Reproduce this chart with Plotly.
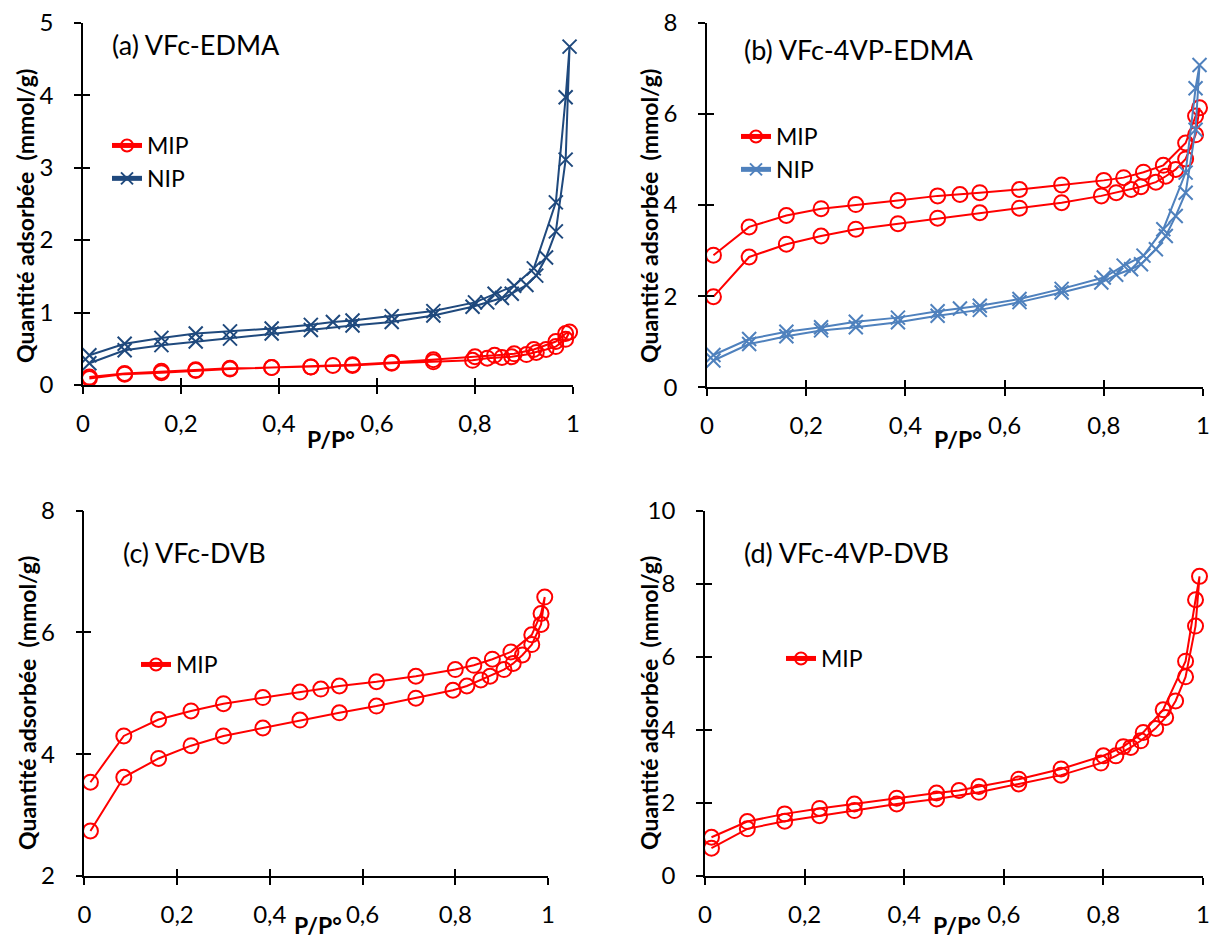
import plotly.graph_objects as go

# Relative pressures (adsorption then desorption branch)
p_ads = [0.013, 0.085, 0.16, 0.23, 0.30, 0.385, 0.465, 0.55, 0.63, 0.715, 0.795,
         0.825, 0.855, 0.875, 0.905, 0.925, 0.945, 0.965, 0.985, 0.993]
p_des = [0.985, 0.965, 0.92, 0.88, 0.84, 0.80, 0.715, 0.63, 0.55, 0.51, 0.465,
         0.385, 0.30, 0.23, 0.16, 0.085, 0.013]

# (a) VFc-EDMA
a_mip_ads = [0.09, 0.15, 0.17, 0.20, 0.22, 0.24, 0.25, 0.27, 0.30, 0.32, 0.34,
             0.37, 0.38, 0.39, 0.42, 0.45, 0.49, 0.53, 0.63, 0.73]
a_mip_des = [0.71, 0.60, 0.49, 0.43, 0.41, 0.39, 0.35, 0.31, 0.28, 0.27, 0.25,
             0.24, 0.23, 0.21, 0.19, 0.16, 0.11]
a_nip_ads = [0.30, 0.48, 0.55, 0.60, 0.64, 0.71, 0.76, 0.82, 0.87, 0.96, 1.08,
             1.14, 1.20, 1.26, 1.38, 1.51, 1.76, 2.12, 3.11, 4.67]
a_nip_des = [3.97, 2.52, 1.61, 1.37, 1.26, 1.14, 1.02, 0.95, 0.89, 0.87, 0.83,
             0.78, 0.74, 0.71, 0.65, 0.57, 0.41]

# (b) VFc-4VP-EDMA
b_mip_ads = [1.99, 2.86, 3.14, 3.32, 3.47, 3.59, 3.71, 3.83, 3.93, 4.05, 4.20,
             4.27, 4.34, 4.40, 4.50, 4.63, 4.78, 5.01, 5.54, 6.13]
b_mip_des = [5.95, 5.36, 4.87, 4.72, 4.60, 4.54, 4.44, 4.34, 4.27, 4.23, 4.20,
             4.10, 4.01, 3.92, 3.77, 3.52, 2.90]
b_nip_ads = [0.59, 0.95, 1.12, 1.25, 1.32, 1.43, 1.57, 1.70, 1.87, 2.08, 2.30,
             2.47, 2.59, 2.70, 3.03, 3.32, 3.76, 4.27, 5.65, 7.07]
b_nip_des = [6.56, 4.71, 3.47, 2.89, 2.67, 2.41, 2.16, 1.94, 1.79, 1.73, 1.67,
             1.53, 1.44, 1.32, 1.22, 1.06, 0.71]

# (c) VFc-DVB
c_mip_ads = [2.74, 3.62, 3.93, 4.14, 4.30, 4.43, 4.56, 4.68, 4.79, 4.92, 5.05,
             5.12, 5.22, 5.28, 5.39, 5.49, 5.63, 5.80, 6.13, 6.58]
c_mip_des = [6.31, 5.96, 5.68, 5.56, 5.46, 5.39, 5.28, 5.19, 5.12, 5.07, 5.02,
             4.93, 4.83, 4.71, 4.57, 4.30, 3.54]

# (d) VFc-4VP-DVB
d_mip_ads = [0.76, 1.29, 1.50, 1.65, 1.79, 1.97, 2.11, 2.29, 2.52, 2.76, 3.09,
             3.29, 3.52, 3.70, 4.04, 4.34, 4.79, 5.45, 6.84, 8.20]
d_mip_des = [7.56, 5.88, 4.55, 3.93, 3.54, 3.29, 2.93, 2.65, 2.45, 2.34, 2.27,
             2.13, 1.97, 1.85, 1.70, 1.49, 1.06]

panel_titles = ["(a) VFc-EDMA", "(b) VFc-4VP-EDMA", "(c) VFc-DVB", "(d) VFc-4VP-DVB"]
y_ranges = [(0, 5, 1), (0, 8, 2), (2, 8, 2), (0, 10, 2)]
x_ticks = [0, 0.2, 0.4, 0.6, 0.8, 1]

W, H = 1213, 939
FONT = "Lato"
RED = "#FF0000"
NAVY = "#1F497D"
LBLUE = "#4F81BD"


def fx(px):
    return px / W


def fy(py):
    return 1 - py / H


# plot-area pixel boxes in page pixels: (left, right, top, bottom)
boxes = [(83, 573, 22.7, 385), (707, 1203, 22.6, 387.4),
         (84.4, 548, 510.6, 876), (705, 1203, 510.6, 876)]

fig = go.Figure()


def add_series(i, name, ads, des, color, symbol, legend, size):
    ax = "" if i == 0 else str(i + 1)
    fig.add_trace(go.Scatter(
        x=p_ads + p_des, y=ads + des, mode="lines+markers", name=name,
        xaxis="x" + ax, yaxis="y" + ax, legend=legend, cliponaxis=False,
        line=dict(color=color, width=2),
        marker=dict(symbol=symbol, size=size, color=color,
                    line=dict(color=color, width=2)),
    ))


add_series(0, "MIP", a_mip_ads, a_mip_des, RED, "circle-open", "legend", 15)
add_series(0, "NIP", a_nip_ads, a_nip_des, NAVY, "x-thin", "legend", 14)
add_series(1, "MIP", b_mip_ads, b_mip_des, RED, "circle-open", "legend2", 15)
add_series(1, "NIP", b_nip_ads, b_nip_des, LBLUE, "x-thin", "legend2", 14)
add_series(2, "MIP", c_mip_ads, c_mip_des, RED, "circle-open", "legend3", 15)
add_series(3, "MIP", d_mip_ads, d_mip_des, RED, "circle-open", "legend4", 15)

layout = dict(width=W, height=H, margin=dict(l=0, r=0, t=0, b=0),
              paper_bgcolor="white", plot_bgcolor="white", separators=", ",
              font=dict(family=FONT, size=22, color="black"), showlegend=True)

tickfont = dict(family=FONT, size=24, color="black")
annotations = []
for i, (l, r, t, b) in enumerate(boxes):
    ax = "" if i == 0 else str(i + 1)
    dx = [fx(l), fx(r)]
    dy = [fy(b), fy(t)]
    y0, y1, dtk = y_ranges[i]
    layout["xaxis" + ax] = dict(domain=dx, range=[0, 1], anchor="y" + ax,
                               tickvals=x_ticks, ticks="outside", ticklen=7,
                               tickwidth=1.5, tickcolor="black", showline=True,
                               linecolor="black", linewidth=1.5, showgrid=False,
                               zeroline=False, tickfont=tickfont,
                               ticklabelstandoff=9, automargin=False,
                               ticklabeloverflow="allow")
    layout["yaxis" + ax] = dict(domain=dy, range=[y0, y1], anchor="x" + ax,
                               dtick=dtk, tick0=y0, ticks="outside", ticklen=7,
                               tickwidth=1.5, tickcolor="black", showline=True,
                               linecolor="black", linewidth=1.5, showgrid=False,
                               zeroline=False, tickfont=tickfont,
                               ticklabelstandoff=16, automargin=False,
                               ticklabeloverflow="allow")
    # overlay axes for the inner half of crossing ticks
    k = str(i + 5)
    layout["xaxis" + k] = dict(overlaying="x" + ax, anchor="y" + ax, range=[0, 1],
                              tickvals=x_ticks, ticks="inside", ticklen=7,
                              tickwidth=1.5, tickcolor="black", showline=False,
                              showgrid=False, zeroline=False, showticklabels=False,
                              side="bottom")
    layout["yaxis" + k] = dict(overlaying="y" + ax, anchor="x" + ax, range=[y0, y1],
                              dtick=dtk, tick0=y0, ticks="inside", ticklen=7,
                              tickwidth=1.5, tickcolor="black", showline=False,
                              showgrid=False, zeroline=False, showticklabels=False,
                              side="left")
    fig.add_trace(go.Scatter(x=[], y=[], xaxis="x" + k, yaxis="y" + k,
                             showlegend=False, hoverinfo="skip"))

# Panel titles
title_pos = [(110, 45), (742, 49), (121, 552), (742, 552)]
for txt, (px, py) in zip(panel_titles, title_pos):
    annotations.append(dict(text=txt, x=fx(px), y=fy(py), xref="paper", yref="paper",
                            xanchor="left", yanchor="middle", showarrow=False,
                            font=dict(family=FONT, size=27, color="black")))

# Axis titles
ytitle_pos = [(25, 216), (649, 216), (27, 703), (649, 703)]
xtitle_pos = [(331, 438.5), (958, 438.5), (318, 925), (957, 925)]
for (px, py) in ytitle_pos:
    annotations.append(dict(text="<b>Quantité adsorbée  (mmol/g)</b>", x=fx(px), y=fy(py),
                            xref="paper", yref="paper", textangle=-90, showarrow=False,
                            xanchor="center", yanchor="middle",
                            font=dict(family=FONT, size=23, color="black")))
for (px, py) in xtitle_pos:
    annotations.append(dict(text="<b>P/P°</b>", x=fx(px), y=fy(py),
                            xref="paper", yref="paper", showarrow=False,
                            xanchor="center", yanchor="middle",
                            font=dict(family=FONT, size=23, color="black")))
layout["annotations"] = annotations

# Legends (top-left corner positions in page pixels)
leg_pos = {"legend": (107, 124), "legend2": (736, 115),
           "legend3": (136, 643), "legend4": (781, 637)}
for key, (px, py) in leg_pos.items():
    layout[key] = dict(x=fx(px), y=fy(py), xanchor="left", yanchor="top",
                       bgcolor="rgba(0,0,0,0)", borderwidth=0,
                       font=dict(family=FONT, size=23, color="black"),
                       tracegroupgap=0, itemsizing="constant")

fig.update_layout(**layout)
fig.write_html("out.html", config={"displayModeBar": False},
               post_script="document.body.style.margin='0px';document.body.style.overflow='hidden';")
